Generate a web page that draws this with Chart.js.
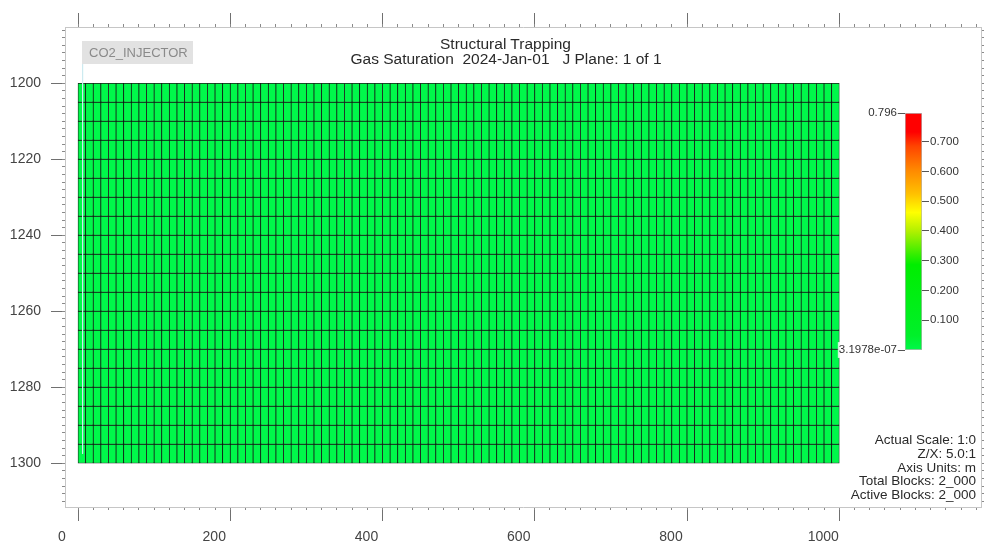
<!DOCTYPE html>
<html>
<head>
<meta charset="utf-8">
<script src="https://cdn.jsdelivr.net/npm/chart.js@4.4.1/dist/chart.umd.min.js"></script>
<style>
  html, body { margin: 0; padding: 0; background: #fff; }
  #wrap { position: relative; width: 984px; height: 543px; overflow: hidden; font-family: "Liberation Sans", Arial, sans-serif; }
  canvas { position: absolute; left: 0; top: 0; }
  .txt { position: absolute; white-space: pre; color: #2a2a2a; }
  #title1 { left: 0; width: 1011px; text-align: center; top: 35px; font-size: 15.5px; line-height: 17px; }
  #title2 { left: 0; width: 1012px; text-align: center; top: 50px; font-size: 15.5px; line-height: 17px; }
  #well { left: 82px; top: 41px; width: 111px; height: 23px; background: #e2e2e2; color: #8a8a8a; font-size: 13px; line-height: 23px; padding-left: 7px; box-sizing: border-box; }
  #info { right: 8px; top: 433px; text-align: right; font-size: 13.5px; line-height: 13.8px; }
</style>
</head>
<body>
<div id="wrap">
  <canvas id="main" width="984" height="543"></canvas>
  <canvas id="cbar" width="984" height="543"></canvas>
  <div class="txt" id="title1">Structural Trapping</div>
  <div class="txt" id="title2">Gas Saturation  2024-Jan-01   J Plane: 1 of 1</div>
  <div class="txt" id="well">CO2_INJECTOR</div>
  <div class="txt" id="info">Actual Scale: 1:0
Z/X: 5.0:1
Axis Units: m
Total Blocks: 2_000
Active Blocks: 2_000</div>
</div>
<script>
// ---------------- data ----------------
// grid column centres (m), 100 columns of 10 m
const COLUMN_CENTERS = [5,15,25,35,45,55,65,75,85,95,105,115,125,135,145,155,165,175,185,195,
  205,215,225,235,245,255,265,275,285,295,305,315,325,335,345,355,365,375,385,395,
  405,415,425,435,445,455,465,475,485,495,505,515,525,535,545,555,565,575,585,595,
  605,615,625,635,645,655,665,675,685,695,705,715,725,735,745,755,765,775,785,795,
  805,815,825,835,845,855,865,875,885,895,905,915,925,935,945,955,965,975,985,995];
// layer tops and bottoms (m depth), 20 layers
const LAYER_TOPS    = [1200,1205,1210,1215,1220,1225,1230,1235,1240,1245,1250,1255,1260,1265,1270,1275,1280,1285,1290,1295];
const LAYER_BOTTOMS = [1205,1210,1215,1220,1225,1230,1235,1240,1245,1250,1255,1260,1265,1270,1275,1280,1285,1290,1295,1300];
// gas saturation per layer (uniform across columns at this date)
const LAYER_GAS_SAT = [0,0,0,0,0,0,0,0,0,0,0,0,0,0,0,0,0,0,0,0];
// well trajectory (x, depth)
const WELL_X = [6, 6];
const WELL_Z = [1195, 1297.5];
// axis ticks
const X_MAJOR_TICKS = [0, 200, 400, 600, 800, 1000];
const Y_MAJOR_TICKS = [1200, 1220, 1240, 1260, 1280, 1300];
// colour bar
const CB_MIN = 3.1978e-07;
const CB_MAX = 0.796;
const CB_TICKS = [0.1, 0.2, 0.3, 0.4, 0.5, 0.6, 0.7];
const CB_STOPS = [0.0, 0.06, 0.36, 0.40, 0.50, 0.58, 0.66, 0.76, 0.86, 0.92, 1.0];
const CB_COLORS = ['#00f84a','#00f02a','#00ee00','#30ee00','#b0f000','#ffff00','#ffc000','#ff8800','#ff4400','#ff0000','#ff0000'];

// ---------------- view ranges ----------------
const X_MIN = -17.1, X_MAX = 1186.2;
const Y_MIN = 1185.2, Y_MAX = 1311.5;

function hexToRgb(h){ return [parseInt(h.slice(1,3),16),parseInt(h.slice(3,5),16),parseInt(h.slice(5,7),16)]; }
function colorFor(v){
  const f = Math.max(0, Math.min(1, (v - CB_MIN) / (CB_MAX - CB_MIN)));
  for (let i = 1; i < CB_STOPS.length; i++) {
    if (f <= CB_STOPS[i]) {
      const t = (f - CB_STOPS[i-1]) / (CB_STOPS[i] - CB_STOPS[i-1]);
      const a = hexToRgb(CB_COLORS[i-1]), b = hexToRgb(CB_COLORS[i]);
      return 'rgb(' + a.map((c,k)=>Math.round(c + (b[k]-c)*t)).join(',') + ')';
    }
  }
  return CB_COLORS[CB_COLORS.length-1];
}

const cells = [], cellColors = [];
LAYER_TOPS.forEach((top, j) => {
  COLUMN_CENTERS.forEach(x => {
    cells.push({x: x, y: [top, LAYER_BOTTOMS[j]]});
    cellColors.push(colorFor(LAYER_GAS_SAT[j]));
  });
});

const FONT = {family: '"Liberation Sans", Arial, sans-serif', size: 14};
const LABEL_COLOR = '#444';
const BORDER = {display: true, color: '#c6c6c6', width: 1};
const NO_BORDER = {display: false};

function minorList(min, max, step){ const a=[]; for (let v=Math.ceil(min/step)*step; v<=max; v+=step) a.push({value: v}); return a; }

function xAxis(pos, weight, major) {
  return {
    type: 'linear', position: pos, weight: weight, min: X_MIN, max: X_MAX, offset: false,
    grid: {drawOnChartArea: false, offset: false, tickLength: major ? 14 : 3, tickColor: major ? '#707070' : '#8a8a8a', tickWidth: 1},
    border: major ? BORDER : NO_BORDER,
    ticks: {display: major && pos === 'bottom', font: FONT, color: LABEL_COLOR, padding: 8, labelOffset: -16,
            maxRotation: 0, autoSkip: false, callback: v => String(v)},
    afterBuildTicks: s => { s.ticks = major ? X_MAJOR_TICKS.map(v => ({value: v})) : minorList(0, X_MAX, 20); },
    afterFit: s => { s.height = major ? (pos === 'bottom' ? 36 : 27) : 0; }
  };
}
function yAxis(pos, weight, major) {
  return {
    type: 'linear', position: pos, weight: weight, min: Y_MIN, max: Y_MAX, reverse: true,
    grid: {drawOnChartArea: false, tickLength: major ? 14 : 3, tickColor: major ? '#707070' : '#8a8a8a', tickWidth: 1},
    border: major ? BORDER : NO_BORDER,
    ticks: {display: major && pos === 'left', font: FONT, color: LABEL_COLOR, padding: 10, autoSkip: false,
            callback: v => String(v)},
    afterBuildTicks: s => { s.ticks = major ? Y_MAJOR_TICKS.map(v => ({value: v})) : minorList(Y_MIN, Y_MAX, 2); },
    afterFit: s => { s.width = major ? (pos === 'left' ? 65 : 3) : 0; }
  };
}

new Chart(document.getElementById('main'), {
  type: 'bar',
  data: {
    datasets: [
      {
        type: 'line', label: 'well', order: 0,
        data: WELL_X.map((x, i) => ({x: x, y: WELL_Z[i]})),
        borderColor: 'rgba(205,235,240,0.95)', borderWidth: 1, pointRadius: 0, fill: false,
        xAxisID: 'x', yAxisID: 'y'
      },
      {
        type: 'bar', label: 'Gas Saturation', order: 1,
        data: cells, backgroundColor: cellColors,
        borderColor: 'rgba(0,0,0,0.9)', borderWidth: 0.75, borderSkipped: false,
        barPercentage: 1, categoryPercentage: 1,
        xAxisID: 'x', yAxisID: 'y'
      }
    ]
  },
  options: {
    responsive: false, animation: false, devicePixelRatio: 1,
    layout: {padding: 0},
    plugins: {legend: {display: false}, tooltip: {enabled: false}, title: {display: false}},
    scales: {
      x: xAxis('bottom', 1, true),
      xMinor: xAxis('bottom', 0, false),
      xTop: xAxis('top', 1, true),
      xTopMinor: xAxis('top', 0, false),
      y: yAxis('left', 1, true),
      yMinor: yAxis('left', 0, false),
      yRight: yAxis('right', 1, true),
      yRightMinor: yAxis('right', 0, false)
    }
  }
});

// ---------------- colour bar ----------------
const CB_FONT = {family: '"Liberation Sans", Arial, sans-serif', size: 11.5};
new Chart(document.getElementById('cbar'), {
  type: 'bar',
  data: {
    labels: ['Gas Saturation'],
    datasets: [{
      data: [[CB_MIN, CB_MAX]],
      backgroundColor: (ctx) => {
        const ca = ctx.chart.chartArea;
        if (!ca) return CB_COLORS[0];
        const g = ctx.chart.ctx.createLinearGradient(0, ca.bottom, 0, ca.top);
        CB_STOPS.forEach((s, i) => g.addColorStop(s, CB_COLORS[i]));
        return g;
      },
      borderColor: '#b4b4b4', borderWidth: 1, borderSkipped: false,
      barPercentage: 1, categoryPercentage: 1, yAxisID: 'yL'
    }]
  },
  options: {
    responsive: false, animation: false, devicePixelRatio: 1,
    layout: {padding: {top: 113, bottom: 193, left: 0, right: 0}},
    plugins: {legend: {display: false}, tooltip: {enabled: false}},
    scales: {
      x: {display: false},
      yL: {
        position: 'left', min: CB_MIN, max: CB_MAX,
        grid: {drawOnChartArea: false, tickLength: 8, tickColor: '#555'},
        border: {display: false},
        ticks: {font: CB_FONT, color: '#333', padding: 0, autoSkip: false,
                showLabelBackdrop: true, backdropColor: 'rgba(255,255,255,0.8)', backdropPadding: {top:1, bottom:1, left:1, right:1},
                callback: v => (v === CB_MIN ? '3.1978e-07' : CB_MAX.toFixed(3))},
        afterBuildTicks: s => { s.ticks = [{value: CB_MIN}, {value: CB_MAX}]; },
        afterFit: s => { s.width = 905; }
      },
      yR: {
        position: 'right', min: CB_MIN, max: CB_MAX,
        grid: {drawOnChartArea: false, tickLength: 7, tickColor: '#555'},
        border: {display: false},
        ticks: {font: CB_FONT, color: '#333', padding: 1, autoSkip: false, callback: v => v.toFixed(3)},
        afterBuildTicks: s => { s.ticks = CB_TICKS.map(v => ({value: v})); },
        afterFit: s => { s.width = 62; }
      }
    }
  }
});
</script>
</body>
</html>
